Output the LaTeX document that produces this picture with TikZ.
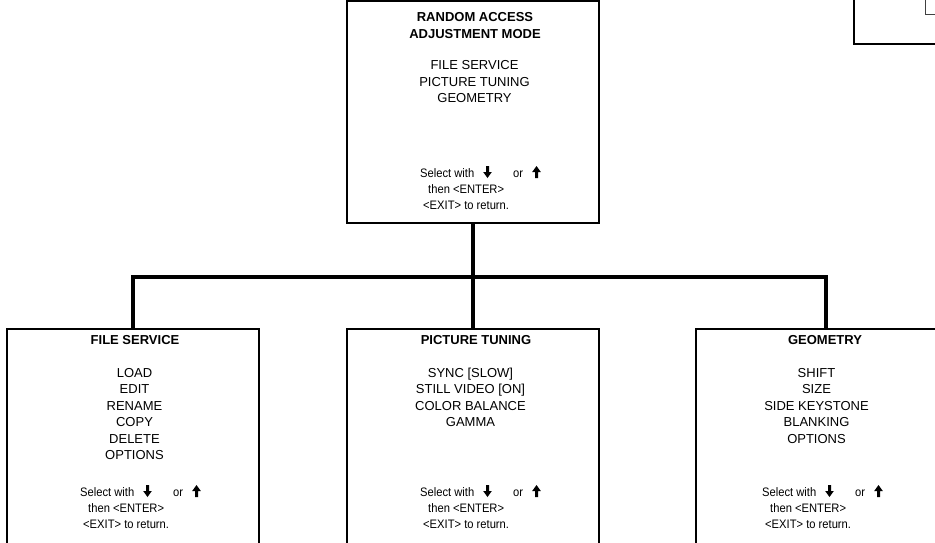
\documentclass[tikz,border=0pt]{standalone}
\usepackage{fontspec}
\setmainfont{Liberation Sans}
\newfontfamily\selfont[FakeStretch=0.91]{Liberation Sans}
\tikzset{
  boxnode/.style={draw, line width=1.3pt, minimum width=252pt, inner sep=0pt},
  conn/.style={line width=3.2pt},
  ttl/.style={font=\bfseries\fontsize{13}{15}\selectfont, inner sep=0pt, anchor=base},
  itm/.style={font=\fontsize{13}{15}\selectfont, inner sep=0pt, anchor=base},
  sel/.style={font=\selfont\fontsize{12.3}{14}\selectfont, inner sep=0pt, anchor=base west},
}
% #1 name prefix, #2 start x, #3 first baseline
\newcommand\selblock[3]{%
  \node[sel] (#1-s) at (#2,#3) {Select with};
  \node[sel] (#1-o) at ({#2+93},#3) {or};
  \node[sel] (#1-t) at ({#2+8},{#3+16.2}) {then <ENTER>};
  \node[sel] (#1-e) at ({#2+3},{#3+32.4}) {<EXIT> to return.};
  \fill ({#2+66},{#3-11.5}) -- ({#2+69},{#3-11.5}) -- ({#2+69},{#3-5.5}) -- ({#2+71.8},{#3-5.5})
        -- ({#2+67.5},{#3+0.5}) -- ({#2+63.2},{#3-5.5}) -- ({#2+66},{#3-5.5}) -- cycle;
  \fill ({#2+116.5},{#3-11.5}) -- ({#2+120.8},{#3-5.5}) -- ({#2+118},{#3-5.5}) -- ({#2+118},{#3+0.5})
        -- ({#2+115},{#3+0.5}) -- ({#2+115},{#3-5.5}) -- ({#2+112.2},{#3-5.5}) -- cycle;
}
\begin{document}
\begin{tikzpicture}[x=1pt,y=-1pt]
\useasboundingbox (0,0) rectangle (935,542);
\clip (0,0) rectangle (935,542);
\fill[white] (0,0) rectangle (935,542);

% partial box at top right
\draw[line width=1.3pt] (854,-20) -- (854,44) -- (960,44);
\draw[line width=1pt, black!75] (925,-20) -- (925,14) -- (960,14);

% boxes
\node[boxnode, minimum height=222pt] (top) at (473,112) {};
\node[boxnode, minimum height=240pt] (fsbox) at (133,449) {};
\node[boxnode, minimum height=240pt] (ptbox) at (473,449) {};
\node[boxnode, minimum width=260pt, minimum height=240pt] (geobox) at (826,449) {};

% connectors
\coordinate (junc) at (473,277);
\draw[conn] (top.south) -- (ptbox.north);
\draw[conn, line cap=rect] (fsbox.north) -- (fsbox.north |- junc) -- (geobox.north |- junc) -- (geobox.north);

% top box text
\node[ttl] (t1) at (475,21) {RANDOM ACCESS};
\node[ttl] (t2) at (475,38) {ADJUSTMENT MODE};
\node[itm] (ti1) at (474.5,69.5) {FILE SERVICE};
\node[itm] (ti2) at (474.5,86) {PICTURE TUNING};
\node[itm] (ti3) at (474.5,102.5) {GEOMETRY};
\selblock{tsel}{420}{177.5}

% file service
\node[ttl] (fst) at (135,344) {FILE SERVICE};
\foreach \t [count=\i] in {LOAD,EDIT,RENAME,COPY,DELETE,OPTIONS}
  \node[itm] (fs\i) at (134.5,{377.5+16.4*(\i-1)}) {\t};
\selblock{fssel}{80}{496.5}

% picture tuning
\node[ttl] (ptt) at (476,344) {PICTURE TUNING};
\foreach \t [count=\i] in {SYNC [SLOW],STILL VIDEO [ON],COLOR BALANCE,GAMMA}
  \node[itm] (pt\i) at (470.5,{377.5+16.4*(\i-1)}) {\t};
\selblock{ptsel}{420}{496.5}

% geometry
\node[ttl] (geot) at (825,344) {GEOMETRY};
\foreach \t [count=\i] in {SHIFT,SIZE,SIDE KEYSTONE,BLANKING,OPTIONS}
  \node[itm] (ge\i) at (816.5,{377.5+16.4*(\i-1)}) {\t};
\selblock{gesel}{762}{496.5}
\end{tikzpicture}
\end{document}
